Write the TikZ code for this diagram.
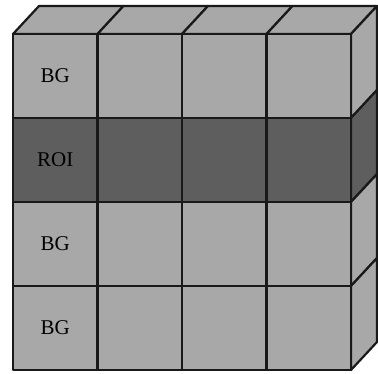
\documentclass[tikz,border=0pt]{standalone}
\usepackage{fontspec}
\setmainfont{Liberation Serif}
\begin{document}
\begin{tikzpicture}[x=1pt,y=-1pt,line join=round,
  edge/.style={draw=black!90,line width=2.2pt},
  cellbox/.style={edge,minimum width=84.5pt,minimum height=84pt,inner sep=0pt},
  bgcell/.style={cellbox,fill=lg},
  roicell/.style={cellbox,fill=dg},
  lbl/.style={font=\fontsize{21}{21}\selectfont,text=black}]
\definecolor{lg}{HTML}{A8A8A8}
\definecolor{dg}{HTML}{5E5E5E}
\useasboundingbox (0,0) rectangle (378,374);
% top face
\foreach \i in {0,...,3}{
  \pgfmathsetmacro{\xa}{13+84.5*\i}
  \pgfmathsetmacro{\xb}{13+84.5*(\i+1)}
  \path[edge,fill=lg] (\xa,34) -- ++(26,-28) -- (\xb+26,6) -- (\xb,34) -- cycle;
}
% right side face
\foreach \j/\c in {0/lg,1/dg,2/lg,3/lg}{
  \pgfmathsetmacro{\ya}{34+84*\j}
  \pgfmathsetmacro{\yb}{34+84*(\j+1)}
  \path[edge,fill=\c] (351,\ya) -- (377,\ya-28) -- (377,\yb-28) -- (351,\yb) -- cycle;
}
% front face
\foreach \i in {0,...,3}{
  \foreach \j/\s in {0/bgcell,1/roicell,2/bgcell,3/bgcell}{
    \node[\s] (c-\i-\j) at ({13+84.5*\i+42.25},{34+84*\j+42}) {};
  }
}
\node[lbl] at (c-0-0) (t0) {BG};
\node[lbl] at (c-0-1) (t1) {ROI};
\node[lbl] at (c-0-2) (t2) {BG};
\node[lbl] at (c-0-3) (t3) {BG};
\end{tikzpicture}
\end{document}
